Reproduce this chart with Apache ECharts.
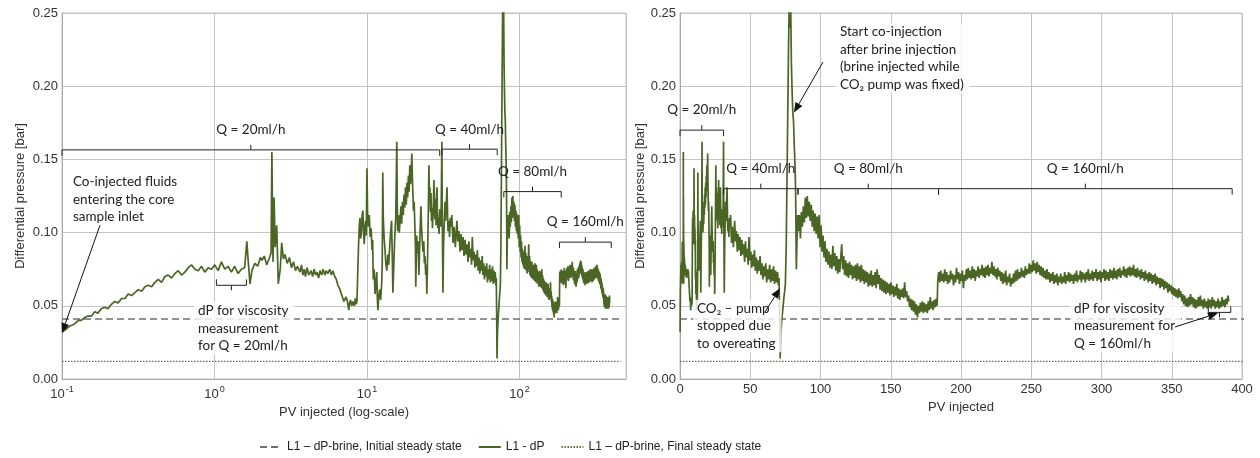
<!DOCTYPE html>
<html>
<head>
<meta charset="utf-8">
<script src="https://cdn.jsdelivr.net/npm/echarts/dist/echarts.min.js"></script>
<style>
  html, body { margin: 0; padding: 0; background: #fff; }
  #main { width: 1260px; height: 458px; }
</style>
</head>
<body>
<div id="main"></div>
<script>
// L1 - dP, split by injection rate  [PV injected, dP bar]
const dpQ20 = [
  [0.100,0.032],[0.106,0.034],[0.112,0.036],[0.118,0.037],[0.122,0.038],[0.128,0.040],[0.134,0.040],[0.141,0.042],
  [0.148,0.043],[0.156,0.043],[0.164,0.046],[0.172,0.045],[0.181,0.048],[0.191,0.049],[0.200,0.048],[0.211,0.051],
  [0.222,0.053],[0.233,0.052],[0.246,0.055],[0.259,0.055],[0.272,0.058],[0.286,0.057],[0.301,0.059],[0.316,0.061],
  [0.333,0.060],[0.350,0.063],[0.368,0.064],[0.387,0.063],[0.407,0.066],[0.428,0.068],[0.450,0.066],[0.473,0.070],
  [0.497,0.071],[0.523,0.069],[0.550,0.072],[0.578,0.074],[0.608,0.071],[0.640,0.073],[0.672,0.076],[0.707,0.078],
  [0.744,0.075],[0.782,0.074],[0.822,0.077],[0.864,0.073],[0.909,0.076],[0.956,0.075],[1.005,0.078],[1.057,0.074],
  [1.111,0.080],[1.168,0.075],[1.228,0.077],[1.291,0.073],[1.357,0.077],[1.427,0.072],[1.500,0.075],[1.577,0.076],
  [1.630,0.094],[1.660,0.082],[1.710,0.065],[1.760,0.074],[1.840,0.079],[1.920,0.077],[2.000,0.083],[2.050,0.081],
  [2.120,0.084],[2.200,0.078],[2.280,0.082],[2.350,0.086],[2.380,0.155],[2.420,0.080],[2.460,0.124],[2.500,0.090],
  [2.560,0.105],[2.620,0.065],[2.700,0.075],[2.760,0.093],[2.830,0.082],[2.900,0.085],[3.000,0.079],[3.100,0.083],
  [3.200,0.076],[3.300,0.080],[3.400,0.074],[3.500,0.077],
  [3.64,0.073],[3.72,0.078],[3.8,0.071],[3.88,0.075],[3.95,0.070],[4.05,0.076],[4.15,0.071],[4.3,0.074],
  [4.4,0.070],[4.5,0.075],[4.6,0.071],[4.7,0.073],[4.82,0.069],[4.92,0.074],[5.05,0.071],[5.15,0.075],
  [5.3,0.071],[5.4,0.074],[5.55,0.072],[5.7,0.075],[5.85,0.071],[5.98,0.074],[6.15,0.070],[6.3,0.068],
  [6.45,0.064],[6.6,0.062],[6.75,0.059],[6.9,0.056],[7.05,0.053],[7.2,0.052],[7.3,0.056],[7.45,0.053],
  [7.6,0.047],[7.7,0.052],[7.8,0.054],[7.95,0.050],[8.1,0.053],[8.25,0.050],[8.4,0.055],[8.5,0.051],
  [8.6,0.053],[8.7,0.072],[8.8,0.090],[8.9,0.104],[9.0,0.110],[9.1,0.096],[9.2,0.101],[9.3,0.112],
  [9.4,0.115],[9.5,0.100],[9.6,0.092],[9.7,0.104],[9.8,0.108],[9.9,0.098],
  [10.0,0.144],[10.1,0.112],[10.2,0.104],[10.35,0.112],[10.5,0.097],[10.65,0.103],[10.8,0.088],[10.9,0.095],
  [11.0,0.068],[11.15,0.075],[11.3,0.058],[11.45,0.066],[11.6,0.073],[11.7,0.055],[11.8,0.047],[11.95,0.056],
  [12.1,0.061],[12.3,0.054],[12.5,0.066],[12.6,0.080],[12.7,0.141],[12.8,0.110],[12.95,0.097],[13.1,0.090],
  [13.3,0.079],[13.5,0.074],[13.7,0.085],[13.9,0.078],[14.1,0.091],[14.3,0.100],[14.5,0.108],[14.65,0.085],
  [14.8,0.059],[15.0,0.078],[15.2,0.096],[15.45,0.110],[15.7,0.162],[15.8,0.120],[15.9,0.101],[16.1,0.112],
  [16.3,0.100],[16.5,0.109],[16.7,0.118],[16.9,0.106],[17.1,0.121],[17.3,0.112],[17.5,0.126],[17.7,0.117],
  [17.9,0.131],[18.1,0.119],[18.3,0.134],[18.5,0.124],[18.7,0.139],[18.9,0.128],[19.1,0.146],[19.3,0.133],
  [19.5,0.141],[19.7,0.154],[19.85,0.138],[20.0,0.128],[20.2,0.115],[20.4,0.121],[20.6,0.106],[20.8,0.090],
  [20.9,0.063],[21.05,0.080],[21.2,0.098],[21.45,0.086],[21.7,0.094],[21.9,0.071],[22.1,0.085],[22.3,0.100],
  [22.6,0.118],[22.8,0.104],[23.0,0.096],[23.3,0.087],[23.6,0.094],[23.8,0.079],[24.0,0.084],[24.3,0.071],
  [24.5,0.078],[24.7,0.058],[24.9,0.075],[25.1,0.096],[25.3,0.118],[25.5,0.146],[25.7,0.121],[25.9,0.131],
  [26.1,0.114],[26.3,0.127],[26.5,0.108],[26.7,0.117],[26.9,0.103],[27.1,0.112],[27.3,0.121],[27.5,0.136],
  [27.7,0.118],[27.9,0.109],[28.1,0.123],[28.4,0.105],[28.6,0.126],[28.8,0.131],[29.0,0.112],[29.2,0.103],
  [29.45,0.110],[29.7,0.099],[29.9,0.112],[30.1,0.116],[30.4,0.104],[30.7,0.118],[31.0,0.162]
];
const dpQ40 = [
  [31.2,0.110],[31.5,0.059],[31.8,0.092],[32.1,0.105],[32.5,0.121],[32.8,0.108],[33.1,0.118],[33.5,0.131],
  [33.8,0.112],[34.0,0.101],[34.4,0.108],[34.8,0.097],[35.2,0.110],[35.6,0.104],
  [36.0,0.112],[36.7,0.093],[37.3,0.104],[38.0,0.090],[38.9,0.108],[39.5,0.094],[40.1,0.101],[40.8,0.087],
  [41.4,0.099],[42.0,0.088],[42.7,0.097],[43.3,0.084],[44.0,0.095],[44.6,0.085],[45.3,0.092],[46.0,0.080],
  [46.6,0.094],[47.2,0.083],[47.9,0.089],[48.5,0.078],[49.1,0.097],[49.7,0.081],[50.4,0.087],[51.0,0.076],
  [51.7,0.085],[52.3,0.077],[53.0,0.088],[53.6,0.074],[54.3,0.083],[55.0,0.072],[55.6,0.081],[56.3,0.074],
  [57.0,0.084],[57.6,0.071],[58.3,0.079],[59.0,0.068],[59.6,0.077],[60.3,0.070],[61.0,0.079],[61.7,0.066],
  [62.4,0.075],[63.1,0.068],[63.8,0.078],[64.5,0.066],[65.2,0.075],[65.9,0.067],[66.6,0.077],[67.3,0.065],
  [68.0,0.074],[68.7,0.066],[69.4,0.073],[70.0,0.064],[70.5,0.069],[71.0,0.038],[71.3,0.014]
];
const dpQ80 = [
  [71.8,0.032],[72.5,0.041],[73.2,0.048],[74.0,0.056],[74.5,0.060],[75.0,0.065],[75.6,0.090],[76.2,0.140],
  [76.8,0.190],[77.3,0.230],[77.8,0.262],[78.3,0.240],[78.8,0.255],[79.3,0.215],[79.8,0.196],[80.3,0.182],
  [80.8,0.176],[81.3,0.160],[81.8,0.148],[82.3,0.128],[82.8,0.075],[83.3,0.097],[83.8,0.112],[84.3,0.101],
  [85.0,0.112],[85.7,0.096],[86.4,0.114],[87.1,0.104],[87.8,0.118],[88.5,0.107],[89.2,0.124],[89.9,0.110],
  [90.6,0.125],[91.3,0.111],[92.0,0.121],[92.7,0.108],[93.4,0.119],[94.1,0.104],[94.8,0.115],[95.5,0.101],
  [96.2,0.113],[96.9,0.099],[97.6,0.111],[98.3,0.096],[99.0,0.112],[99.7,0.090],[100.4,0.105],[101.1,0.087],
  [101.8,0.098],[102.5,0.083],[103.2,0.094],[103.9,0.080],[104.6,0.089],[105.3,0.078],[106.0,0.087],[106.7,0.076],
  [107.4,0.085],[108.1,0.075],[108.8,0.091],[109.5,0.077],[110.2,0.086],[110.9,0.074],[111.6,0.084],[112.3,0.072],
  [113.0,0.082],[113.7,0.073],[114.4,0.083],[115.1,0.092],[115.8,0.075],[116.5,0.084],[117.2,0.071],[117.9,0.081],
  [118.6,0.070],[119.3,0.079],[120.0,0.069],[120.7,0.080],[121.4,0.071],[122.1,0.078],[122.8,0.068],[123.5,0.077],
  [124.2,0.069],[124.9,0.078],[125.6,0.067],[126.3,0.079],[127.0,0.068],[127.7,0.077],[128.4,0.066],[129.1,0.078],
  [129.8,0.067],[130.5,0.075],[131.2,0.065],[131.9,0.074],[132.6,0.066],[133.3,0.073],[134.0,0.063],[134.7,0.072],
  [135.4,0.064],[136.1,0.074],[136.8,0.063],[137.5,0.071],[138.2,0.064],[138.9,0.073],[139.6,0.062],[140.3,0.075],
  [141.0,0.065],[141.7,0.071],[142.4,0.061],[143.1,0.069],[143.8,0.060],[144.5,0.068],[145.2,0.059],[145.9,0.067],
  [146.6,0.058],[147.3,0.066],[148.0,0.059],[148.7,0.065],[149.4,0.057],[150.1,0.066],[150.8,0.058],[151.5,0.064],
  [152.2,0.056],[152.9,0.063],[153.6,0.057],[154.3,0.065],[155.0,0.055],[155.7,0.062],[156.4,0.054],[157.1,0.061],
  [157.8,0.056],[158.5,0.062],[159.2,0.055],[159.9,0.066],[160.6,0.056],[161.3,0.060],[162.0,0.053],[162.7,0.057],
  [163.4,0.049],[164.1,0.055],[164.8,0.047],[165.5,0.054],[166.2,0.046],[166.9,0.053],[167.6,0.044],[168.3,0.051],
  [169.0,0.042],[169.7,0.050],[170.4,0.045],[171.1,0.052],[171.8,0.046],[172.5,0.053],[173.2,0.045],[173.9,0.052],
  [174.6,0.046],[175.3,0.051],[176.0,0.045],[176.7,0.053],[177.4,0.047],[178.1,0.056],[178.8,0.048],[179.5,0.053],
  [180.2,0.047],[180.9,0.054],[181.6,0.049],[182.3,0.055],[183.0,0.050]
];
const dpQ160 = [
  [183.5,0.068],[184.2,0.073],[184.9,0.066],[185.6,0.074],[186.3,0.067],
  [187.0,0.072],[187.7,0.066],[188.4,0.075],[189.1,0.067],[189.8,0.073],[190.5,0.065],[191.2,0.071],[191.9,0.066],
  [192.6,0.074],[193.3,0.068],[194.0,0.072],[194.7,0.064],[195.4,0.071],[196.1,0.066],[196.8,0.076],[197.5,0.068],
  [198.2,0.073],[198.9,0.065],[199.6,0.072],[200.3,0.067],[201.0,0.074],[201.7,0.062],[202.4,0.071],[203.1,0.067],
  [203.8,0.075],[204.5,0.068],[205.2,0.076],[205.9,0.069],[206.6,0.074],[207.3,0.068],[208.0,0.077],[208.7,0.069],
  [209.4,0.075],[210.1,0.067],[210.8,0.074],[211.5,0.070],[212.2,0.077],[212.9,0.069],[213.6,0.075],[214.3,0.071],
  [215.0,0.078],[215.7,0.070],[216.4,0.076],[217.1,0.069],[217.8,0.077],[218.5,0.071],[219.2,0.078],[219.9,0.070],
  [220.6,0.076],[221.3,0.072],[222.0,0.080],[222.7,0.071],[223.4,0.077],[224.1,0.070],[224.8,0.075],[225.5,0.068],
  [226.2,0.076],[226.9,0.070],[227.6,0.074],[228.3,0.067],[229.0,0.073],[229.7,0.065],[230.4,0.072],[231.1,0.066],
  [231.8,0.074],[232.5,0.064],[233.2,0.070],[233.9,0.066],[234.6,0.072],[235.3,0.063],[236.0,0.069],[236.7,0.065],
  [237.4,0.072],[238.1,0.066],[238.8,0.074],[239.5,0.067],[240.2,0.075],[240.9,0.068],[241.6,0.073],[242.3,0.069],
  [243.0,0.076],[243.7,0.070],[244.4,0.074],[245.1,0.069],[245.8,0.077],[246.5,0.071],[247.2,0.075],[247.9,0.072],
  [248.6,0.079],[249.3,0.072],[250.0,0.078],[250.7,0.073],[251.4,0.081],[252.1,0.074],[252.8,0.079],[253.5,0.072],
  [254.2,0.080],[254.9,0.073],[255.6,0.078],[256.3,0.071],[257.0,0.077],[257.7,0.070],[258.4,0.076],[259.1,0.069],
  [259.8,0.074],[260.5,0.068],[261.2,0.075],[261.9,0.068],[262.6,0.073],[263.3,0.066],[264.0,0.072],[264.7,0.067],
  [265.4,0.073],[266.1,0.065],[266.8,0.071],[267.5,0.066],[268.2,0.072],[268.9,0.064],[269.6,0.070],[270.3,0.066],
  [271.0,0.072],[271.7,0.065],[272.4,0.070],[273.1,0.066],[273.8,0.073],[274.5,0.065],[275.2,0.071],[275.9,0.067],
  [276.6,0.073],[277.3,0.066],[278.0,0.072],[278.7,0.067],[279.4,0.071],[280.1,0.065],[280.8,0.072],[281.5,0.067],
  [282.2,0.074],[282.9,0.066],[283.6,0.071],[284.3,0.068],[285.0,0.074],[285.7,0.066],[286.4,0.073],[287.1,0.068],
  [287.8,0.072],[288.5,0.066],[289.2,0.073],[289.9,0.068],[290.6,0.075],[291.3,0.067],[292.0,0.072],[292.7,0.068],
  [293.4,0.074],[294.1,0.067],[294.8,0.073],[295.5,0.069],[296.2,0.075],[296.9,0.067],[297.6,0.073],[298.3,0.068],
  [299.0,0.074],[299.7,0.066],[300.4,0.073],[301.1,0.069],[301.8,0.075],[302.5,0.067],[303.2,0.074],[303.9,0.068],
  [304.6,0.073],[305.3,0.067],[306.0,0.075],[306.7,0.069],[307.4,0.074],[308.1,0.068],[308.8,0.076],[309.5,0.069],
  [310.2,0.074],[310.9,0.068],[311.6,0.075],[312.3,0.070],[313.0,0.076],[313.7,0.069],[314.4,0.074],[315.1,0.071],
  [315.8,0.077],[316.5,0.070],[317.2,0.075],[317.9,0.069],[318.6,0.076],[319.3,0.071],[320.0,0.077],[320.7,0.070],
  [321.4,0.076],[322.1,0.071],[322.8,0.078],[323.5,0.070],[324.2,0.075],[324.9,0.069],[325.6,0.076],[326.3,0.070],
  [327.0,0.074],[327.7,0.068],[328.4,0.075],[329.1,0.069],[329.8,0.073],[330.5,0.067],[331.2,0.074],[331.9,0.068],
  [332.6,0.072],[333.3,0.066],[334.0,0.073],[334.7,0.067],[335.4,0.072],[336.1,0.065],[336.8,0.071],[337.5,0.066],
  [338.2,0.072],[338.9,0.064],[339.6,0.070],[340.3,0.065],[341.0,0.069],[341.7,0.062],[342.4,0.069],[343.1,0.063],
  [343.8,0.068],[344.5,0.061],[345.2,0.067],[345.9,0.062],[346.6,0.066],[347.3,0.059],[348.0,0.065],[348.7,0.060],
  [349.4,0.064],[350.1,0.058],[350.8,0.063],[351.5,0.057],[352.2,0.062],[352.9,0.056],[353.6,0.061],[354.3,0.055],
  [355.0,0.062],[355.7,0.056],[356.4,0.060],[357.1,0.053],[357.8,0.058],[358.5,0.051],[359.2,0.057],[359.9,0.050],
  [360.6,0.055],[361.3,0.049],[362.0,0.056],[362.7,0.050],[363.4,0.058],[364.1,0.051],[364.8,0.056],[365.5,0.049],
  [366.2,0.055],[366.9,0.048],[367.6,0.054],[368.3,0.049],[369.0,0.056],[369.7,0.050],[370.4,0.057],[371.1,0.050],
  [371.8,0.054],[372.5,0.048],[373.2,0.055],[373.9,0.049],[374.6,0.053],[375.3,0.048],[376.0,0.055],[376.7,0.049],
  [377.4,0.054],[378.1,0.048],[378.8,0.056],[379.5,0.050],[380.2,0.054],[380.9,0.048],[381.6,0.053],[382.3,0.049],
  [383.0,0.055],[383.7,0.048],[384.4,0.053],[385.1,0.049],[385.8,0.056],[386.5,0.050],[387.2,0.054],[387.9,0.049],
  [388.6,0.055],[389.3,0.051],[390.0,0.057],[390.6,0.053]
];

// brine reference levels (bar) and the PV span they are drawn over
const dpBrineInitial = 0.041;
const dpBrineFinal = 0.012;
const brineSpanLog = [0.1, 460];
const brineSpanLin = [0, 460];

// axis ticks
const yTicks = [0, 0.05, 0.10, 0.15, 0.20, 0.25];
const xTicksLin = [0, 50, 100, 150, 200, 250, 300, 350, 400];
const xRangeLog = [0.1, 500];

// flow-rate periods marked with brackets
const flowLabels = ['Q = 20ml/h', 'Q = 40ml/h', 'Q = 80ml/h', 'Q = 160ml/h'];
const flowFromLog = [0.1, 31, 79, 183];
const flowToLog = [30, 71.5, 188, 400];
const flowLevelLog = [0.1565, 0.157, 0.128, 0.0935];
const flowFromLin = [0, 31, 84, 184];
const flowToLin = [31, 84, 184, 393];
const flowLevelLin = [0.17, 0.13, 0.13, 0.13];

// text notes (top-left anchor in data units)
const notesLog = [
  { text: 'Co-injected fluids\nentering the core\nsample inlet', at: [0.118, 0.1407], box: false },
  { text: 'dP for viscosity\nmeasurement\nfor Q = 20ml/h', at: [0.734, 0.0526], box: true }
];
const notesLin = [
  { text: 'Start co-injection\nafter brine injection\n(brine injected while\nCO\u2082 pump was fixed)', at: [111, 0.243], box: true },
  { text: 'CO\u2082 \u2013 pump\nstopped due\nto overeating', at: [9.25, 0.0542], box: true },
  { text: 'dP for viscosity\nmeasurement for\nQ = 160ml/h', at: [277.6, 0.0542], box: true }
];
// arrows: [fromX, fromY, toX, toY]
const arrowsLog = [[0.1775, 0.105, 0.1, 0.0314]];
const arrowsLin = [[101.8, 0.2165, 81.1, 0.182], [60.5, 0.0458, 71.2, 0.062], [352.3, 0.0355, 382.9, 0.045]];
// viscosity-measurement windows
const viscWinLog = [[1.03, 1.62, 0.064]];
const viscWinLin = [[376, 392, 0.0455]];

const GREEN = '#4b6525';
const NOTE_FONT = '13.5px Lato, "Open Sans", sans-serif';
const AXIS_FONT = 'Liberation Sans, Arial, sans-serif';

const dpAll = dpQ20.concat(dpQ40, dpQ80, dpQ160);

function bracketRender(labels, dir) {
  return function (params, api) {
    const a = api.coord([api.value(0), api.value(2)]);
    const b = api.coord([api.value(1), api.value(2)]);
    const y = a[1], mid = (a[0] + b[0]) / 2;
    const e = 6 * dir, c = 5 * dir;
    const kids = [
      { type: 'polyline', shape: { points: [[a[0], y + e], [a[0], y], [b[0], y], [b[0], y + e]] },
        style: { stroke: '#222', lineWidth: 1, fill: null } },
      { type: 'line', shape: { x1: mid, y1: y, x2: mid, y2: y - c }, style: { stroke: '#222', lineWidth: 1 } }
    ];
    if (labels) {
      kids.push({ type: 'text', style: { text: labels[params.dataIndex], x: mid, y: y - 13,
        align: 'center', verticalAlign: 'bottom', font: NOTE_FONT, fill: '#222' } });
    }
    return { type: 'group', children: kids };
  };
}

function arrowRender(params, api) {
  const p0 = api.coord([api.value(0), api.value(1)]);
  const p1 = api.coord([api.value(2), api.value(3)]);
  const ang = Math.atan2(p1[1] - p0[1], p1[0] - p0[0]);
  const L = 10, W = 4;
  const bx = p1[0] - L * Math.cos(ang), by = p1[1] - L * Math.sin(ang);
  const nx = -Math.sin(ang) * W, ny = Math.cos(ang) * W;
  return { type: 'group', children: [
    { type: 'line', shape: { x1: p0[0], y1: p0[1], x2: bx, y2: by }, style: { stroke: '#111', lineWidth: 1 } },
    { type: 'polygon', shape: { points: [[p1[0], p1[1]], [bx + nx, by + ny], [bx - nx, by - ny]] }, style: { fill: '#111' } }
  ] };
}

function noteRender(notes) {
  return function (params, api) {
    const n = notes[params.dataIndex];
    const p = api.coord([api.value(0), api.value(1)]);
    return { type: 'text', style: { text: n.text, x: p[0], y: p[1], align: 'left', verticalAlign: 'top',
      font: NOTE_FONT, lineHeight: 17.5, fill: '#222',
      backgroundColor: n.box ? 'rgba(255,255,255,0.8)' : null, padding: n.box ? [0, 6, 0, 4] : 0 } };
  };
}

function annotationSeries(gi, from, to, level, notes, arrows, windows) {
  return [
    { type: 'custom', xAxisIndex: gi, yAxisIndex: gi, z: 6, silent: true, clip: false,
      data: from.map((f, i) => [f, to[i], level[i]]), encode: { x: [0, 1], y: 2 },
      renderItem: bracketRender(flowLabels, 1) },
    { type: 'custom', xAxisIndex: gi, yAxisIndex: gi, z: 6, silent: true, clip: false,
      data: windows, encode: { x: [0, 1], y: 2 }, renderItem: bracketRender(null, -1) },
    { type: 'custom', xAxisIndex: gi, yAxisIndex: gi, z: 5, silent: true, clip: false,
      data: notes.map(n => n.at), encode: { x: 0, y: 1 }, renderItem: noteRender(notes) },
    { type: 'custom', xAxisIndex: gi, yAxisIndex: gi, z: 7, silent: true, clip: false,
      data: arrows, encode: { x: [0, 2], y: [1, 3] }, renderItem: arrowRender }
  ];
}

const NAME_INIT = 'L1 \u2013 dP-brine, Initial steady state';
const NAME_DP = 'L1 - dP';
const NAME_FINAL = 'L1 \u2013 dP-brine, Final steady state';

function refLines(gi, span) {
  return [
    { name: NAME_INIT, type: 'line', xAxisIndex: gi, yAxisIndex: gi, symbol: 'none', z: 2,
      data: [[span[0], dpBrineInitial], [span[1], dpBrineInitial]],
      lineStyle: { color: '#6f6f6f', width: 1.3, type: [7, 4] }, itemStyle: { color: '#6f6f6f' } },
    { name: NAME_FINAL, type: 'line', xAxisIndex: gi, yAxisIndex: gi, symbol: 'none', z: 2,
      data: [[span[0], dpBrineFinal], [span[1], dpBrineFinal]],
      lineStyle: { color: '#5f7048', width: 1.2, type: [1.5, 1.5] }, itemStyle: { color: '#5f7048' } },
    { name: NAME_DP, type: 'line', xAxisIndex: gi, yAxisIndex: gi, symbol: 'none', z: 3,
      data: dpAll, lineStyle: { color: GREEN, width: 1.7 }, itemStyle: { color: GREEN } }
  ];
}

function yAxis(gi, gap) {
  return {
    type: 'value', gridIndex: gi, min: yTicks[0], max: yTicks[yTicks.length - 1], interval: yTicks[1] - yTicks[0],
    name: 'Differential pressure [bar]', nameLocation: 'middle', nameGap: gap,
    nameTextStyle: { fontFamily: AXIS_FONT, fontSize: 13, color: '#333' },
    axisLine: { show: true, lineStyle: { color: '#a8a8a8' } }, axisTick: { show: false },
    axisLabel: { fontFamily: AXIS_FONT, fontSize: 13, color: '#333', margin: 4, formatter: v => v.toFixed(2) },
    splitLine: { lineStyle: { color: '#c4c4c4' } }
  };
}

const chart = echarts.init(document.getElementById('main'));
chart.setOption({
  animation: false,
  backgroundColor: '#fff',
  grid: [
    { left: 62, top: 13, width: 564, height: 366, show: true, borderColor: '#c4c4c4', borderWidth: 1 },
    { left: 680, top: 13, width: 562, height: 366, show: true, borderColor: '#c4c4c4', borderWidth: 1 }
  ],
  xAxis: [
    { type: 'log', logBase: 10, gridIndex: 0, min: xRangeLog[0], max: xRangeLog[1],
      name: 'PV injected (log-scale)', nameLocation: 'middle', nameGap: 26,
      nameTextStyle: { fontFamily: AXIS_FONT, fontSize: 13, color: '#333', verticalAlign: 'top' },
      axisLine: { lineStyle: { color: '#a8a8a8' } }, axisTick: { show: false }, minorTick: { show: false },
      splitLine: { show: true, lineStyle: { color: '#c4c4c4' } },
      axisLabel: {
        margin: 6, showMaxLabel: false,
        formatter: function (v) {
          const e = Math.log10(v), r = Math.round(e);
          if (Math.abs(e - r) > 0.01) return '';
          return '{b|10}{s|' + r + '}';
        },
        rich: {
          b: { fontFamily: AXIS_FONT, fontSize: 13, color: '#333', lineHeight: 16, verticalAlign: 'bottom' },
          s: { fontFamily: AXIS_FONT, fontSize: 9, color: '#333', lineHeight: 9, verticalAlign: 'top', padding: [0, 0, 0, 1] }
        }
      } },
    { type: 'value', gridIndex: 1, min: xTicksLin[0], max: xTicksLin[xTicksLin.length - 1], interval: xTicksLin[1] - xTicksLin[0],
      name: 'PV injected', nameLocation: 'middle', nameGap: 18,
      nameTextStyle: { fontFamily: AXIS_FONT, fontSize: 13, color: '#333', verticalAlign: 'top' },
      axisLine: { lineStyle: { color: '#a8a8a8' } }, axisTick: { show: false },
      splitLine: { show: true, lineStyle: { color: '#c4c4c4' } },
      axisLabel: { fontFamily: AXIS_FONT, fontSize: 13, color: '#333', margin: 4 } }
  ],
  yAxis: [yAxis(0, 35), yAxis(1, 32)],
  legend: {
    left: 254, top: 436, itemWidth: 22, itemHeight: 12, itemGap: 16,
    itemStyle: { opacity: 0 },
    data: [NAME_INIT, NAME_DP, NAME_FINAL],
    textStyle: { fontFamily: '"Liberation Sans Narrow", "Arial Narrow", sans-serif', fontSize: 12, color: '#222' }
  },
  series: [].concat(
    refLines(0, brineSpanLog),
    refLines(1, brineSpanLin),
    annotationSeries(0, flowFromLog, flowToLog, flowLevelLog, notesLog, arrowsLog, viscWinLog),
    annotationSeries(1, flowFromLin, flowToLin, flowLevelLin, notesLin, arrowsLin, viscWinLin)
  )
});
</script>
</body>
</html>
